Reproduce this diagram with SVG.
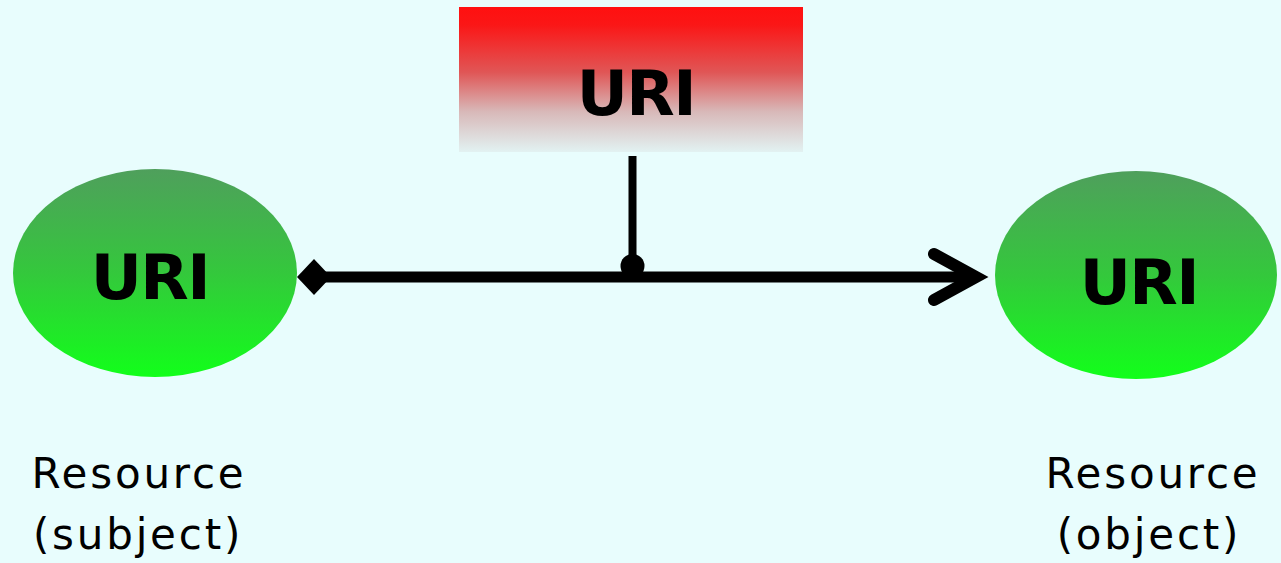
<svg xmlns="http://www.w3.org/2000/svg" width="1281" height="563" viewBox="0 0 1281 563">
  <defs>
    <linearGradient id="gGreen" x1="0" y1="0" x2="0" y2="1">
      <stop offset="0" stop-color="#4f9f5c"/>
      <stop offset="0.5" stop-color="#34c83c"/>
      <stop offset="1" stop-color="#12ff1a"/>
    </linearGradient>
    <linearGradient id="gRed" x1="0" y1="0" x2="0" y2="1">
      <stop offset="0" stop-color="#ff1010"/>
      <stop offset="0.12" stop-color="#fb1616"/>
      <stop offset="0.45" stop-color="#e05656"/>
      <stop offset="0.72" stop-color="#d8b8b8"/>
      <stop offset="1" stop-color="#e2f2f2"/>
    </linearGradient>
    <marker id="mDiamond" viewBox="0 0 34 36" refX="17" refY="18" markerWidth="34" markerHeight="36" markerUnits="userSpaceOnUse" orient="auto">
      <path d="M0 18 L17 0 L34 18 L17 36 Z" fill="#000"/>
    </marker>
    <style>
      .uri { font-family: "DejaVu Sans", Verdana, sans-serif; font-weight: bold; font-size: 63px; fill: #000; text-anchor: middle; letter-spacing: -1.5px; }
      .lbl { font-family: "DejaVu Sans", Verdana, sans-serif; font-size: 42px; fill: #000; text-anchor: middle; letter-spacing: 2.8px; }
      .edge { stroke: #000; fill: none; }
    </style>
  </defs>

  <rect width="1281" height="563" fill="#e8fdfd"/>

  <!-- subject resource -->
  <g id="subject">
    <ellipse cx="155" cy="273" rx="142" ry="104" fill="url(#gGreen)"/>
    <text class="uri" x="150" y="299">URI</text>
    <text class="lbl" x="139" y="488">Resource</text>
    <text class="lbl" x="138" y="549">(subject)</text>
  </g>

  <!-- object resource -->
  <g id="object">
    <ellipse cx="1136" cy="275" rx="141" ry="104" fill="url(#gGreen)"/>
    <text class="uri" x="1139" y="304">URI</text>
    <text class="lbl" x="1153" y="488">Resource</text>
    <text class="lbl" x="1149" y="549">(object)</text>
  </g>

  <!-- predicate -->
  <g id="predicate">
    <rect x="459" y="7" width="344" height="145" fill="url(#gRed)"/>
    <text class="uri" x="636" y="115">URI</text>
  </g>

  <!-- connectors -->
  <g id="connectors">
    <line class="edge" x1="314" y1="277" x2="974" y2="277" stroke-width="11" marker-start="url(#mDiamond)"/>
    <polyline class="edge" points="934,254 976,277 934,300" stroke-width="12" stroke-linecap="round" stroke-linejoin="miter"/>
    <line class="edge" x1="632.5" y1="156" x2="632.5" y2="266" stroke-width="8"/>
    <circle cx="632.5" cy="266" r="12" fill="#000"/>
  </g>
</svg>
